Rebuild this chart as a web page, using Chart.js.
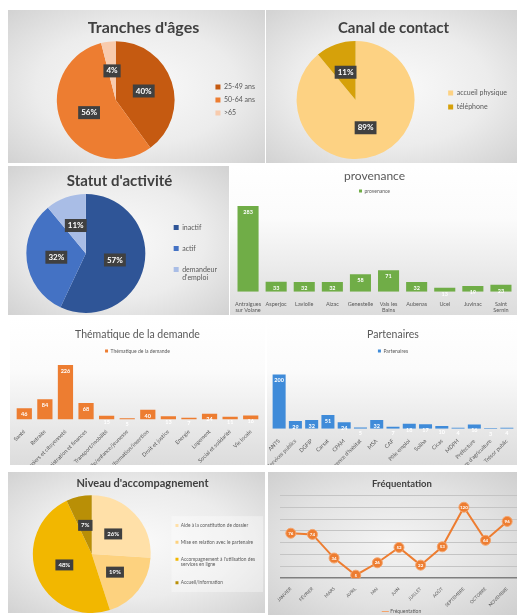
<!DOCTYPE html>
<html>
<head>
<meta charset="utf-8">
<script src="https://cdn.jsdelivr.net/npm/chart.js@4"></script>
<style>
  body { margin: 0; background: #fff; width: 519px; height: 615px; position: relative; overflow: hidden; }
  .panel { position: absolute; overflow: hidden; }
  .inner { position: absolute; left: 0; top: 0; width: 100%; }
  .grey { background: radial-gradient(ellipse at center, #fafafa 0%, #ececec 55%, #d2d2d2 100%); }
  .fade { background: linear-gradient(to bottom, #ffffff 0%, #fbfbfb 35%, #dcdcdc 100%); }
  .line { background: radial-gradient(ellipse at center, #f4f4f4 0%, #e2e2e2 60%, #cfcfcf 100%); }
</style>
</head>
<body>
<div class="panel grey" style="left:8px;top:10px;width:257px;height:153px"><canvas id="c1"></canvas></div>
<div class="panel grey" style="left:266px;top:10px;width:251px;height:153px"><canvas id="c2"></canvas></div>
<div class="panel grey" style="left:8px;top:166px;width:221px;height:149px"><canvas id="c3"></canvas></div>
<div class="panel fade" style="left:230px;top:166px;width:287px;height:149px"><canvas id="c4"></canvas></div>
<div class="panel fade" style="left:10px;top:318px;width:255px;height:147px"><div class="inner" style="height:163px"><canvas id="c5"></canvas></div></div>
<div class="panel fade" style="left:267px;top:318px;width:250px;height:147px"><div class="inner" style="height:163px"><canvas id="c6"></canvas></div></div>
<div class="panel grey" style="left:8px;top:472px;width:257px;height:141px"><canvas id="c7"></canvas></div>
<div class="panel line" style="left:268px;top:472px;width:249px;height:143px"><div class="inner" style="height:152px;width:256px"><canvas id="c8"></canvas></div></div>
<script>
// --- données ---
var agesLabels = ['25-49 ans', '50-64 ans', '>65'];
var agesValues = [40, 56, 4];

var canalLabels = ['accueil physique', 'téléphone'];
var canalValues = [89, 11];

var statutLabels = ['inactif', 'actif', ['demandeur', "d'emploi"]];
var statutValues = [57, 32, 11];

var provLabels = [['Antraigues', 'sur Volane'], 'Asperjoc', 'Laviolle', 'Aizac', 'Genestelle', ['Vals les', 'Bains'], 'Aubenas', 'Ucel', 'Juvinac', ['Saint', 'Sernin']];
var provValues = [283, 33, 32, 32, 58, 71, 32, 13, 19, 23];

var themeLabels = ['Santé', 'Retraite', 'Papiers et citoyenneté', 'Administration et finances', 'Transport/mobilité', 'Famille/enfance/jeunesse', 'Emploi/formation/insertion', 'Droit et justice', 'Energie', 'Logement', 'Social et solidarité', 'Vie locale'];
var themeValues = [46, 84, 226, 68, 15, 5, 40, 13, 7, 24, 11, 16];

var partLabels = ['ANTS', 'Services publics', 'DGFIP', 'Carsat', 'CPAM', "Agence d'habitat", 'MSA', 'CAF', 'Pôle emploi', 'Soliha', 'Cicas', 'MDPH', 'Préfecture', "Chambre d'agriculture", 'Trésor public'];
var partValues = [200, 29, 32, 51, 24, 5, 32, 7, 18, 17, 10, 4, 16, 3, 4];

var niveauLabels = ['Aide à la constitution de dossier', 'Mise en relation avec le partenaire', ["Accompagnement à l'utilisation des", 'services en ligne'], 'Accueil/Information'];
var niveauValues = [26, 19, 48, 7];

var moisLabels = ['JANVIER', 'FÉVRIER', 'MARS', 'AVRIL', 'MAI', 'JUIN', 'JUILLET', 'AOÛT', 'SEPTEMBRE', 'OCTOBRE', 'NOVEMBRE'];
var freqValues = [76, 74, 34, 5, 26, 52, 22, 53, 120, 64, 96];

Chart.defaults.font.family = 'Lato, "Open Sans", sans-serif';
Chart.defaults.color = '#595959';
Chart.defaults.animation = false;
Chart.defaults.maintainAspectRatio = false;
Chart.defaults.plugins.tooltip.enabled = false;

// étiquettes de valeurs (pas de plugin datalabels dispo)
var valueLabels = {
  id: 'valueLabels',
  beforeDraw: function(chart, args, opts) {
    if (!opts.legendBg || !chart.legend) return;
    var boxes = chart.legend.legendHitBoxes;
    if (!boxes || !boxes.length) return;
    var l = Infinity, t = Infinity, r = -Infinity, b = -Infinity;
    boxes.forEach(function(h) {
      l = Math.min(l, h.left); t = Math.min(t, h.top);
      r = Math.max(r, h.left + h.width); b = Math.max(b, h.top + h.height);
    });
    chart.ctx.save();
    chart.ctx.fillStyle = opts.legendBg;
    chart.ctx.fillRect(l - 4, t - 7, r - l + 12, b - t + 14);
    chart.ctx.restore();
  },
  afterDatasetsDraw: function(chart, args, opts) {
    if (!opts.mode) return;
    var ctx = chart.ctx;
    var meta = chart.getDatasetMeta(0);
    var data = chart.data.datasets[0].data;
    ctx.save();
    ctx.font = 'bold ' + opts.size + 'px Lato, sans-serif';
    ctx.textAlign = 'center';
    ctx.textBaseline = 'middle';
    meta.data.forEach(function(el, i) {
      var v = data[i], x, y, txt;
      if (opts.mode === 'pie') {
        txt = v + '%';
        var p = el.getProps(['x', 'y', 'startAngle', 'endAngle', 'outerRadius'], true);
        var a = (p.startAngle + p.endAngle) / 2;
        x = p.x + Math.cos(a) * p.outerRadius * 0.5;
        y = p.y + Math.sin(a) * p.outerRadius * 0.5;
        var w = ctx.measureText(txt).width + 6, h = opts.size + 5;
        ctx.fillStyle = '#404040';
        ctx.fillRect(x - w / 2, y - h / 2, w, h);
      } else if (opts.mode === 'bar') {
        txt = String(v);
        x = el.x; y = el.y + opts.size * 0.9 + 1;
      } else {
        txt = String(v);
        x = el.x; y = el.y;
      }
      ctx.fillStyle = '#fff';
      ctx.fillText(txt, x, y);
    });
    ctx.restore();
  }
};
Chart.register(valueLabels);

function pie(id, labels, values, colors, o) {
  return new Chart(document.getElementById(id), {
    type: 'pie',
    data: { labels: labels, datasets: [{ data: values, backgroundColor: colors, borderWidth: 0 }] },
    options: {
      layout: { padding: o.padding },
      plugins: {
        title: { display: true, text: o.title, color: '#404040', font: { size: o.titleSize, weight: 'bold' }, padding: o.titlePad },
        legend: { position: 'right', fullSize: false, labels: { boxWidth: o.box, boxHeight: o.box, font: { size: o.legendSize }, padding: o.legendPad, color: '#595959' } },
        valueLabels: { mode: 'pie', size: o.labelSize, legendBg: o.legendBg }
      }
    }
  });
}

pie('c1', agesLabels, agesValues, ['#c55a11', '#ed7d31', '#f8cbad'], {
  title: "Tranches d'âges", titleSize: 16, titlePad: { top: 8, bottom: 4 },
  padding: { left: 14, right: 0, bottom: 4 }, box: 5, legendSize: 7, legendPad: 6, labelSize: 8
});
pie('c2', canalLabels, canalValues, ['#fdd283', '#d6a10a'], {
  title: 'Canal de contact', titleSize: 15, titlePad: { top: 9, bottom: 4 },
  padding: { left: 4, right: 0, bottom: 4 }, box: 5, legendSize: 7, legendPad: 7, labelSize: 8
});
pie('c3', statutLabels, statutValues, ['#2f5597', '#4472c4', '#a9bde6'], {
  title: "Statut d'activité", titleSize: 15, titlePad: { top: 6, bottom: 4 },
  padding: { left: 4, right: 2, bottom: 2 }, box: 5, legendSize: 7, legendPad: 14, labelSize: 8
});
pie('c7', niveauLabels, niveauValues, ['#ffe0a8', '#fdd27f', '#f2b700', '#b98f06'], {
  title: "Niveau d'accompagnement", titleSize: 11, titlePad: { top: 5, bottom: 5 },
  padding: { left: 12, right: 0, bottom: 0 }, box: 3, legendSize: 4.8, legendPad: 12, labelSize: 6,
  legendBg: 'rgba(255,255,255,0.35)'
});

function bars(id, labels, values, color, o) {
  return new Chart(document.getElementById(id), {
    type: 'bar',
    data: { labels: labels, datasets: [{ label: o.title, data: values, backgroundColor: color, categoryPercentage: 1, barPercentage: o.barPct }] },
    options: {
      layout: { padding: o.padding },
      scales: {
        y: { display: false, beginAtZero: true, max: o.max },
        x: {
          grid: { display: false }, border: { display: false },
          ticks: { autoSkip: false, minRotation: o.rot, maxRotation: o.rot, font: { size: o.tickSize }, color: '#595959', padding: 1 }
        }
      },
      plugins: {
        title: { display: true, text: o.title, color: '#595959', font: { size: o.titleSize, weight: 'normal' }, padding: o.titlePad },
        legend: { position: 'top', labels: { boxWidth: 3, boxHeight: 3, font: { size: 5 }, padding: 3 } },
        valueLabels: { mode: 'bar', size: 5.5 }
      }
    }
  });
}

bars('c4', provLabels, provValues, '#70ad47', { title: 'provenance', titleSize: 12, titlePad: { top: 3, bottom: 2 }, barPct: 0.75, rot: 0, tickSize: 5.5, max: 292, padding: { left: 4, right: 2, bottom: 0 } });
bars('c5', themeLabels, themeValues, '#ed7d31', { title: 'Thématique de la demande', titleSize: 10.5, titlePad: { top: 10, bottom: 5 }, barPct: 0.74, rot: 45, tickSize: 5.5, max: 232, padding: { left: 4, right: 4, bottom: 0 } });
bars('c6', partLabels, partValues, '#3f8bd9', { title: 'Partenaires', titleSize: 10.5, titlePad: { top: 10, bottom: 5 }, barPct: 0.8, rot: 45, tickSize: 5.5, max: 240, padding: { left: 4, right: 2, bottom: 0 } });

new Chart(document.getElementById('c8'), {
  type: 'line',
  data: {
    labels: moisLabels,
    datasets: [{
      label: 'Fréquentation', data: freqValues, borderColor: '#ed7d31', backgroundColor: '#ed7d31',
      borderWidth: 2, pointRadius: 5, pointBackgroundColor: '#ed7d31', pointBorderColor: '#f4a46c', pointBorderWidth: 1
    }]
  },
  options: {
    layout: { padding: { left: 12, right: 0, bottom: 0 } },
    scales: {
      y: {
        min: 0, max: 140, ticks: { display: false, stepSize: 20 }, border: { display: false },
        grid: {
          drawTicks: false,
          color: function(c) { return c.tick.value === 0 ? '#7f7f7f' : '#c4c4c4'; },
          lineWidth: function(c) { return c.tick.value === 0 ? 1.5 : 1; }
        }
      },
      x: {
        offset: true, grid: { display: false }, border: { display: false },
        ticks: { autoSkip: false, minRotation: 45, maxRotation: 45, font: { size: 4.5 }, color: '#595959', padding: 0 }
      }
    },
    plugins: {
      title: { display: true, text: 'Fréquentation', color: '#404040', font: { size: 9.5, weight: 'bold' }, padding: { top: 6, bottom: 6 } },
      legend: { position: 'bottom', labels: { usePointStyle: true, pointStyle: 'line', boxWidth: 10, font: { size: 5 }, padding: 1 } },
      valueLabels: { mode: 'point', size: 4.5 }
    }
  }
});
</script>
</body>
</html>
